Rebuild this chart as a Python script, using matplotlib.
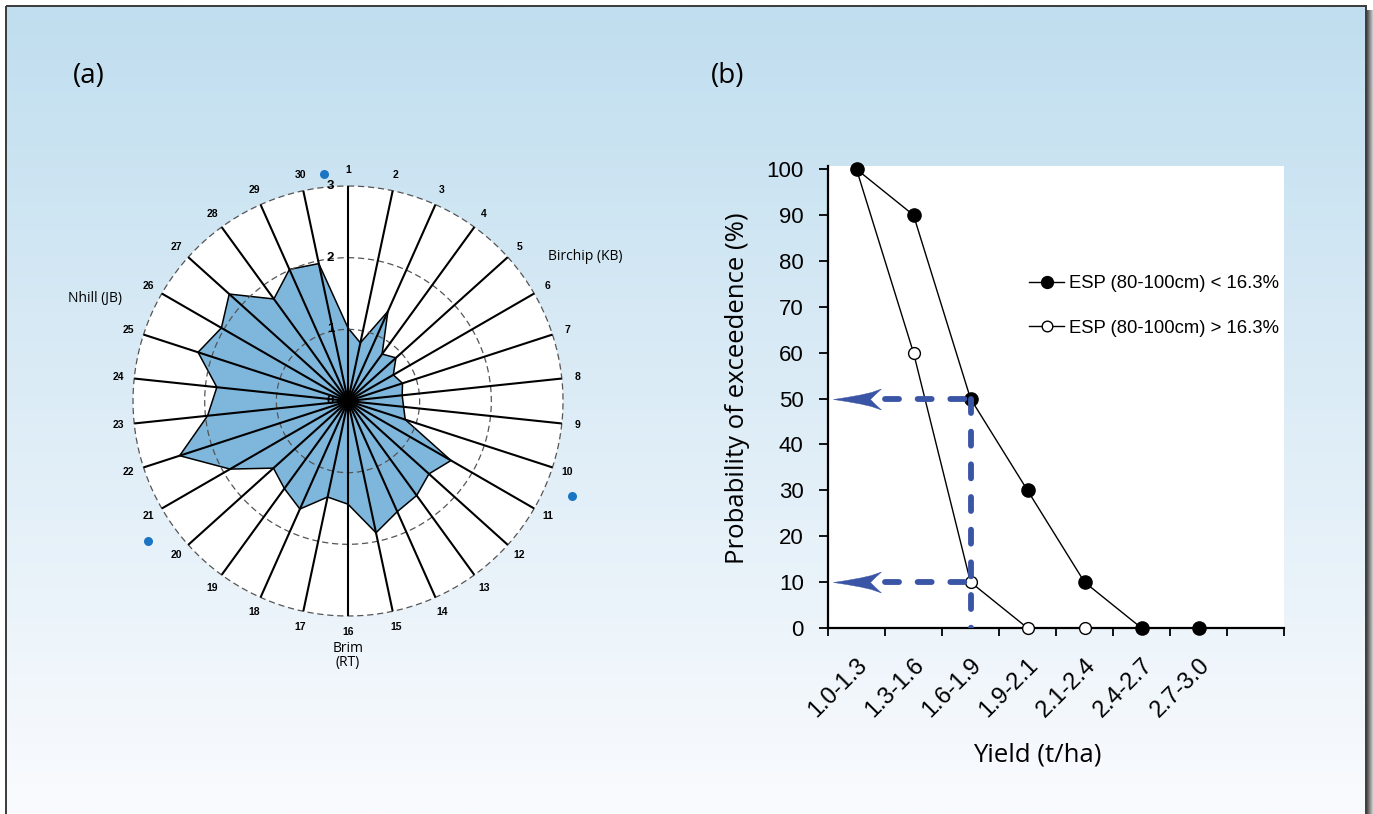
import numpy as np
import matplotlib.pyplot as plt
from matplotlib.path import Path
from matplotlib.patches import Rectangle

plt.rcParams['font.family'] = ['Liberation Sans', 'DejaVu Sans']

# === DANE (a): wykres radarowy ===
SPOKES = list(range(1, 31))
RADAR_VALUES = [1.02, 0.83, 1.37, 0.81, 0.90, 0.73, 0.80, 0.76, 0.78, 0.84,
                1.66, 1.52, 1.63, 1.69, 1.88, 1.44, 1.37, 1.65, 1.51, 1.40,
                1.90, 2.47, 1.97, 1.84, 2.20, 2.04, 2.23, 1.76, 2.01, 1.96]
RING_LEVELS = [0, 1, 2, 3]
SITE_LABELS = ["Birchip (KB)", "Nhill (JB)", "Brim\n(RT)"]

# === DANE (b): prawdopodobienstwo przekroczenia ===
YIELD_CLASSES = ["1.0-1.3", "1.3-1.6", "1.6-1.9", "1.9-2.1",
                 "2.1-2.4", "2.4-2.7", "2.7-3.0"]
PROB_LOW_ESP = [100, 90, 50, 30, 10, 0, 0]
PROB_HIGH_ESP = [100, 60, 10, 0, 0]
SERIES_NAMES = ["ESP (80-100cm) < 16.3%", "ESP (80-100cm) > 16.3%"]
Y_TICKS = list(range(0, 101, 10))
ARROW_LEVELS = [50, 10]
ARROW_CLASS = "1.6-1.9"

W, H = 1373, 814
fig = plt.figure(figsize=(W / 100, H / 100), dpi=100)

# --- tlo z gradientem i ramka ---
bg = fig.add_axes([0, 0, 1, 1], zorder=-10)
bg.axis('off')
top = np.array([192, 222, 239]) / 255
bot = np.array([250, 251, 254]) / 255
t = np.linspace(0, 1, 256)[:, None]
grad = (top[None, :] * (1 - t) + bot[None, :] * t)[:, None, :]
bg.imshow(grad, extent=(6, 1366, H, 6), aspect='auto', interpolation='bilinear')
sh = np.linspace(0.30, 0.80, 16)
shadow = np.repeat(sh[None, :, None], 3, axis=2)
bg.imshow(shadow, extent=(1367, W, H, 10), aspect='auto')
bg.add_patch(Rectangle((6, 6), 1360, H + 10, fill=False, ec='#3a3a3a', lw=1.4))
bg.set_xlim(0, W)
bg.set_ylim(H, 0)

fig.text(89 / W, 1 - 76 / H, "(a)", ha='center', va='center', fontsize=20, family='Open Sans')
fig.text(728 / W, 1 - 76 / H, "(b)", ha='center', va='center', fontsize=20, family='Open Sans')

# === (a) radar ===
ax1 = fig.add_axes([133 / W, 1 - 616 / H, 430 / W, 430 / H], projection='polar')
ax1.set_theta_zero_location('N')
ax1.set_theta_direction(-1)
ax1.set_ylim(0, 3)
ax1.grid(False)
ax1.set_xticks([])
ax1.set_yticks([])
ax1.spines['polar'].set_visible(False)
ax1.patch.set_facecolor('white')

theta = np.deg2rad((np.array(SPOKES) - 1) * 12)
vals = np.array(RADAR_VALUES)
ax1.fill(np.append(theta, theta[0]), np.append(vals, vals[0]),
         facecolor='#7EB6DC', edgecolor='black', lw=1.1, zorder=2)

ring_t = np.linspace(0, 2 * np.pi, 721)
for r in RING_LEVELS[1:]:
    ax1.plot(ring_t, np.full_like(ring_t, r), color='#555555', lw=0.9,
             ls=(0, (5, 3)), zorder=2.5, clip_on=False)

for th in theta:
    ax1.plot([th, th], [0, RING_LEVELS[-1]], color='black', lw=1.5, zorder=3)

for k, th in zip(SPOKES, theta):
    ax1.text(th, 3.22, str(k), ha='center', va='center', fontsize=7.5, fontweight='bold')

for r in RING_LEVELS:
    ax1.annotate(str(r), xy=(0, r), xytext=(-12.5, 0), textcoords='offset points',
                 ha='center', va='center', fontsize=9.5, fontweight='bold', zorder=6)

# punkty lokalizacji
ax1.plot(np.deg2rad([354, 113, 235]), [3.19, 3.4, 3.4], 'o', color='#1A75C4',
         ms=6.5, mec='none', clip_on=False)

ax1.text(np.deg2rad(58.7), 3.87, SITE_LABELS[0], ha='center', va='center',
         fontsize=10, family='Open Sans')
ax1.text(np.deg2rad(292), 3.81, SITE_LABELS[1], ha='center', va='center',
         fontsize=10, family='Open Sans')
ax1.text(np.pi, 3.55, SITE_LABELS[2], ha='center', va='center',
         fontsize=10, family='Open Sans', linespacing=0.95)

# === (b) prawdopodobienstwo przekroczenia ===
ax2 = fig.add_axes([828 / W, 1 - 628 / H, 456 / W, 462 / H])
ax2.set_facecolor('white')
n_slots = len(YIELD_CLASSES) + 1
x = np.arange(len(YIELD_CLASSES)) + 0.5

ax2.plot(x, PROB_LOW_ESP, '-o', color='black', lw=1.0, ms=9.5, mfc='black',
         clip_on=False, zorder=6, label=SERIES_NAMES[0])
ax2.plot(x[:len(PROB_HIGH_ESP)], PROB_HIGH_ESP, '-o', color='black', lw=1.0, ms=8.5,
         mfc='white', mew=1.0, clip_on=False, zorder=5, label=SERIES_NAMES[1])

# strzalki (linie przerywane)
blue = '#3A55A6'
xi = x[YIELD_CLASSES.index(ARROW_CLASS)]
head = np.array([[0, 0], [13, 2.0], [27, 4.5], [38, 7.0], [48, 10.5], [42, 5], [37, 0],
                 [42, -5], [48, -10.5], [38, -7.0], [27, -4.5], [13, -2.0], [0, 0]], float)
head[:, 0] -= 24
codes = [Path.MOVETO] + [Path.LINETO] * (len(head) - 2) + [Path.CLOSEPOLY]
arrow_marker = Path(head, codes)
for lev in ARROW_LEVELS:
    ax2.plot([x[0] + 0.5, xi], [lev, lev], color=blue, lw=4.2, ls=(0, (2.4, 3.2)),
             dash_capstyle='round', zorder=7)
    ax2.plot([x[0]], [lev], marker=arrow_marker, ms=34.5, color=blue, mec=blue,
             mew=0.3, ls='none', zorder=7)
ax2.plot([xi, xi], [ARROW_LEVELS[0], 0], color=blue, lw=4.2, ls=(0, (2.4, 3.2)),
         dash_capstyle='round', zorder=7)

ax2.set_xlim(0, n_slots)
ax2.set_ylim(0, 100.7)
ax2.set_xticks(np.arange(n_slots + 1))
ax2.set_xticklabels([])
ax2.set_xticks(x, minor=True)
ax2.set_xticklabels(YIELD_CLASSES, minor=True, rotation=45, ha='right',
                    rotation_mode='anchor', fontsize=17)
ax2.tick_params(axis='x', which='minor', length=0, pad=19)
ax2.tick_params(axis='x', which='major', length=6, width=1.3, direction='out')
ax2.set_yticks(Y_TICKS)
ax2.tick_params(axis='y', length=6.5, width=1.3, pad=11, labelsize=16)
for s in ['top', 'right']:
    ax2.spines[s].set_visible(False)
for s in ['left', 'bottom']:
    ax2.spines[s].set_linewidth(1.6)

ax2.set_ylabel("Probability of exceedence (%)", fontsize=18.5, family='Open Sans')
ax2.yaxis.set_label_coords(-0.17, 0.518)
ax2.set_xlabel("Yield (t/ha)", fontsize=18.5, family='Open Sans', va='center')
ax2.xaxis.set_label_coords(0.458, -0.275)

ax2.legend(loc='upper left', bbox_to_anchor=(0.441, 0.764), frameon=False,
           fontsize=13.3, handlelength=1.9, handletextpad=0.25, labelspacing=1.5,
           borderpad=0, borderaxespad=0, markerscale=0.9)

plt.savefig("out.png", dpi=100)
